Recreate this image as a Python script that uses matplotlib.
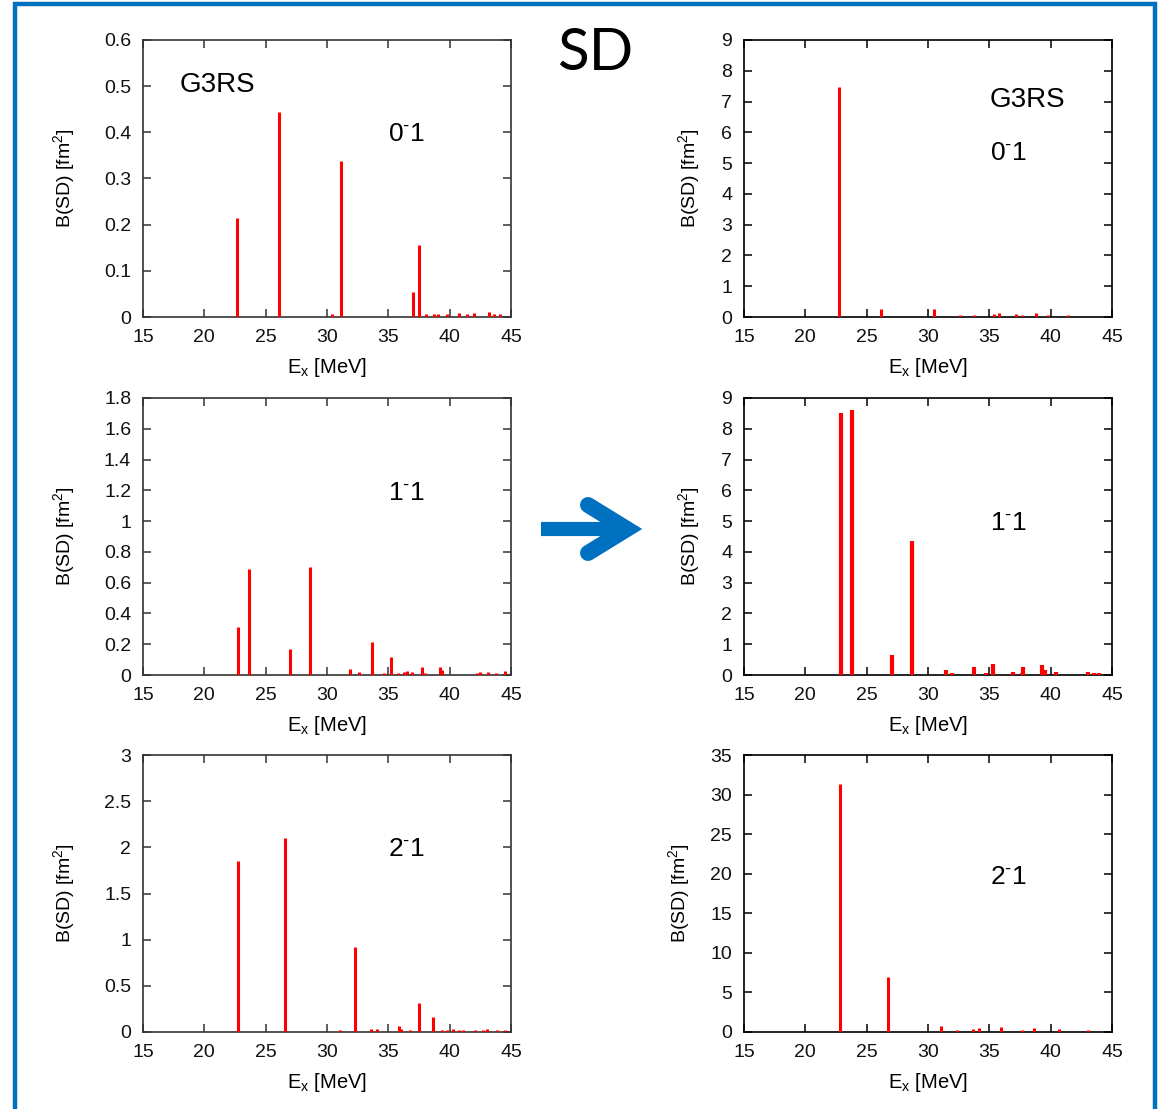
import matplotlib
matplotlib.use('Agg')
import matplotlib.pyplot as plt
from matplotlib.lines import Line2D
from matplotlib.ticker import MultipleLocator, FuncFormatter

plt.rcParams['font.family'] = ['Liberation Sans', 'DejaVu Sans']
plt.rcParams['mathtext.fontset'] = 'custom'
plt.rcParams['mathtext.rm'] = 'Liberation Sans'
plt.rcParams['mathtext.it'] = 'Liberation Sans:italic'
plt.rcParams['mathtext.bf'] = 'Liberation Sans:bold'

### strengths before the transformation (left column)
ex01Left = [22.64, 26.1, 30.43, 31.14, 37.0, 37.52, 38.1, 38.7, 39.07, 39.75,
            40.78, 41.38, 41.98, 43.17, 43.6, 44.1]
bsd01Left = [0.214, 0.444, 0.006, 0.338, 0.054, 0.155, 0.007, 0.007, 0.007, 0.007,
             0.009, 0.007, 0.009, 0.011, 0.007, 0.007]

ex11Left = [22.77, 23.67, 27.0, 28.61, 31.87, 32.58, 33.69, 34.67, 35.19, 35.81,
            36.27, 36.54, 36.92, 37.71, 37.98, 39.23, 39.39, 42.19, 42.46, 43.09,
            43.77, 44.5]
bsd11Left = [0.309, 0.691, 0.170, 0.702, 0.037, 0.02, 0.212, 0.015, 0.117, 0.015,
             0.020, 0.028, 0.02, 0.052, 0.015, 0.052, 0.032, 0.016, 0.018, 0.018,
             0.015, 0.028]

ex21Left = [22.74, 26.57, 31.05, 32.28, 33.55, 34.07, 35.86, 36.0, 36.8, 37.52,
            38.61, 39.34, 39.75, 40.24, 40.78, 41.1, 42.08, 42.68, 43.06, 43.83,
            44.5]
bsd21Left = [1.85, 2.10, 0.025, 0.924, 0.035, 0.03, 0.068, 0.03, 0.025, 0.31,
             0.159, 0.025, 0.025, 0.035, 0.025, 0.025, 0.025, 0.025, 0.035, 0.025,
             0.025]

### strengths after the transformation (right column)
ex01Right = [22.74, 26.17, 30.49, 32.6, 33.77, 35.4, 35.79, 37.15, 37.64, 38.78,
             39.81, 41.44]
bsd01Right = [7.47, 0.26, 0.26, 0.08, 0.08, 0.1, 0.13, 0.09, 0.08, 0.13,
              0.08, 0.08]

ex11Right = [22.9, 23.77, 27.08, 28.71, 31.46, 31.92, 33.77, 34.72, 35.27, 36.95,
             37.64, 37.77, 39.27, 39.52, 40.41, 43.08, 43.55, 43.9]
bsd11Right = [8.5, 8.6, 0.65, 4.34, 0.16, 0.08, 0.26, 0.07, 0.35, 0.1,
              0.08, 0.26, 0.31, 0.17, 0.1, 0.09, 0.08, 0.08]

ex21Right = [22.82, 26.73, 31.08, 32.36, 33.69, 34.18, 35.95, 37.64, 38.67, 40.65,
             43.08]
bsd21Right = [31.35, 6.9, 0.7, 0.3, 0.35, 0.5, 0.6, 0.3, 0.5, 0.4, 0.3]

W, H = 1160, 1109
BLUE = '#0070c0'


def figPos(x, y):
    # pixel position -> figure fraction
    return x / W, 1 - y / H


def drawPanel(ax, ex, bsd, ymax, ystep, frameColor, barWidth):
    ax.vlines(ex, 0, bsd, color='red', lw=barWidth, zorder=3)
    ax.set_xlim(15, 45)
    ax.set_ylim(0, ymax)
    ax.xaxis.set_major_locator(MultipleLocator(5))
    ax.yaxis.set_major_locator(MultipleLocator(ystep))
    ax.yaxis.set_major_formatter(FuncFormatter(lambda v, p: '%g' % round(v, 3)))
    ax.tick_params(direction='in', length=6, width=1.1, color=frameColor,
                   top=True, right=True, labelsize=14, pad=8.5,
                   labelcolor='#111111')
    for s in ax.spines.values():
        s.set_color(frameColor)
        s.set_linewidth(1.2)
    ax.set_xlabel('E$_{\\rm x}$ [MeV]', fontsize=14.5)
    ax.set_ylabel('B(SD) [fm$^2$]', fontsize=14)


fig = plt.figure(figsize=(W / 100, H / 100), dpi=100)

colLeft = [143 / W, 744 / W]
colWidth = 368 / W
rowBottom = [1 - 317 / H, 1 - 675 / H, 1 - 1032 / H]
rowHeight = 277 / H

panels = [
    (0, 0, ex01Left, bsd01Left, 0.6, 0.1, '0', 0.661),
    (1, 0, ex11Left, bsd11Left, 1.8, 0.2, '1', 0.658),
    (2, 0, ex21Left, bsd21Left, 3.0, 0.5, '2', 0.661),
    (0, 1, ex01Right, bsd01Right, 9, 1, '0', 0.592),
    (1, 1, ex11Right, bsd11Right, 9, 1, '1', 0.548),
    (2, 1, ex21Right, bsd21Right, 35, 5, '2', 0.558),
]

for row, col, ex, bsd, ymax, ystep, spin, stateY in panels:
    ax = fig.add_axes([colLeft[col], rowBottom[row], colWidth, rowHeight])
    frameColor = '#333333' if col == 0 else 'black'
    barWidth = 3.0 if (row, col) == (1, 1) else 2.2
    drawPanel(ax, ex, bsd, ymax, ystep, frameColor, barWidth)
    ax.xaxis.set_label_coords(0.5, -0.142)
    if col == 0:
        ax.yaxis.set_label_coords(-0.178, 0.5)
        stateX = 0.666
    else:
        ax.yaxis.set_label_coords(-0.142 if row == 2 else -0.115, 0.5)
        stateX = 0.668
    # J^pi label, the parity sign as a small raised dash
    ax.text(stateX, stateY, spin + '$^{\\text{-}}$1', transform=ax.transAxes,
            fontsize=19, ha='left', va='center')
    if row == 0:
        g3rsPos = (0.1, 0.838) if col == 0 else (0.668, 0.783)
        ax.text(g3rsPos[0], g3rsPos[1], 'G3RS', transform=ax.transAxes,
                fontsize=20, ha='left', va='center')

# title
fig.text(*figPos(595, 54), 'SD', fontsize=42, family='Lato',
         ha='center', va='center')

# arrow between the columns
shaft = Line2D([541 / W, 612 / W], [1 - 529 / H, 1 - 529 / H],
               transform=fig.transFigure, color=BLUE, lw=10.2,
               solid_capstyle='butt')
head = Line2D([588 / W, 627 / W, 588 / W], [1 - 505 / H, 1 - 529 / H, 1 - 553 / H],
              transform=fig.transFigure, color=BLUE, lw=11.5,
              solid_capstyle='round', solid_joinstyle='miter')
fig.add_artist(shaft)
fig.add_artist(head)

# blue frame round the whole slide
frame = Line2D([14.5 / W, 14.5 / W, 1155 / W, 1155 / W],
               [-0.02, 1 - 4 / H, 1 - 4 / H, -0.02],
               transform=fig.transFigure, color=BLUE, lw=3.2,
               solid_joinstyle='miter')
fig.add_artist(frame)

fig.savefig('out.png', dpi=100)
